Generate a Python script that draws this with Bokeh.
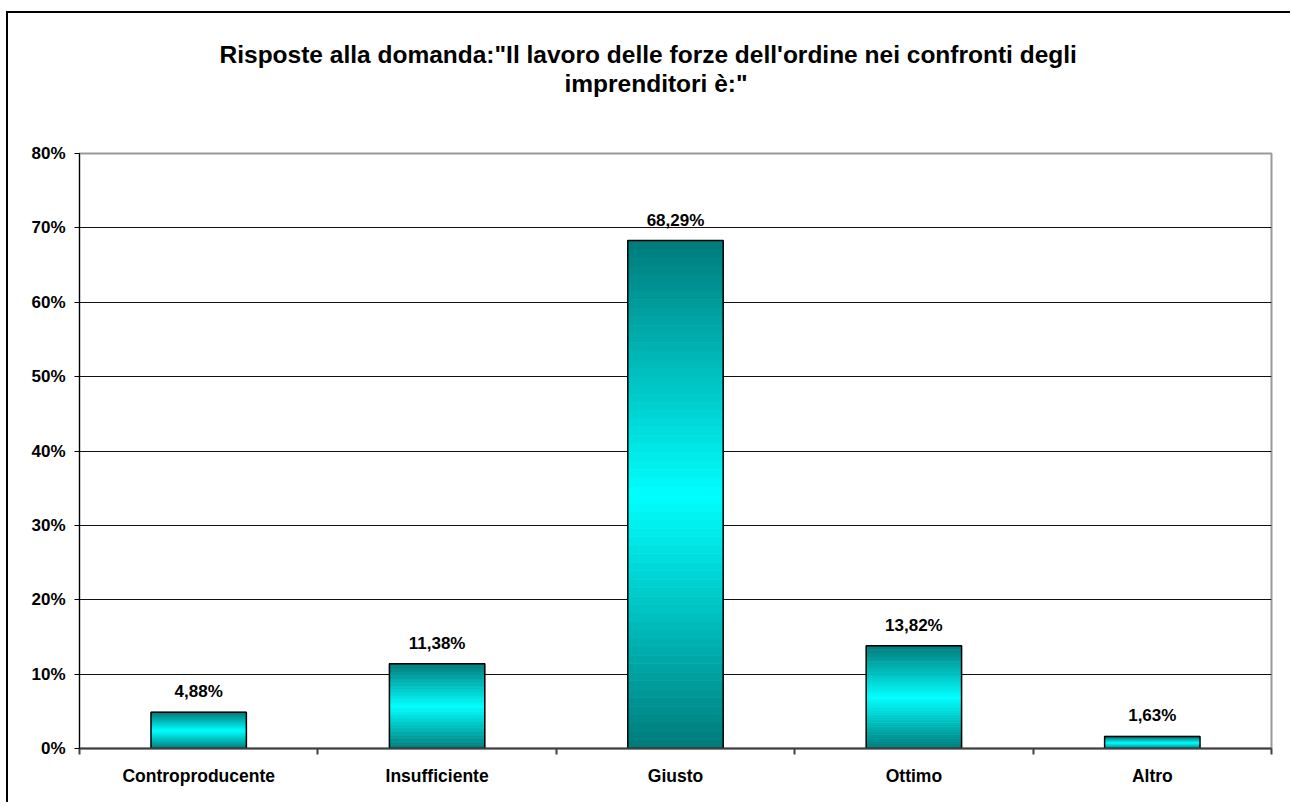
from bokeh.plotting import figure
from bokeh.models import ColumnDataSource, FixedTicker, Title, LabelSet
from bokeh.core.properties import value
from bokeh.embed import file_html
from bokeh.resources import INLINE

# ---- data ----
categories = ["Controproducente", "Insufficiente", "Giusto", "Ottimo", "Altro"]
values = [4.88, 11.38, 68.29, 13.82, 1.63]          # percent
value_labels = ["4,88%", "11,38%", "68,29%", "13,82%", "1,63%"]
y_ticks = [0, 10, 20, 30, 40, 50, 60, 70, 80]
y_tick_labels = ["0%", "10%", "20%", "30%", "40%", "50%", "60%", "70%", "80%"]
title_line1 = "Risposte alla domanda:\"Il lavoro delle forze dell'ordine nei confronti degli"
title_line2 = "imprenditori è:\""

FONT = "Liberation Sans"
W, H = 1284, 791

p = figure(width=W, height=H, output_backend="svg", toolbar_location=None,
           x_range=(0, len(categories)), y_range=(0, 80),
           min_border_left=71, min_border_right=21, min_border_top=140, min_border_bottom=56)
p.title = None
p.styles = {"border-width": "2px 0px 0px 2px", "border-style": "solid", "border-color": "black",
            "margin-left": "6px", "margin-top": "11px"}

# title: spacer panel next to the frame, then the two lines
tstyle = dict(align="left", text_font=FONT, text_font_size="24.5px",
              text_font_style="bold", text_color="black")
p.add_layout(Title(text=" ", standoff=28, **tstyle), "above")
p.add_layout(Title(text=title_line2, offset=485, standoff=0, **tstyle), "above")
p.add_layout(Title(text=title_line1, offset=140, standoff=0, **tstyle), "above")

# gradient bars built from strips
N = 60
dark = (0, 122, 122)
light = (0, 255, 255)
xs, bots, tops, cols = [], [], [], []
for i, v in enumerate(values):
    for k in range(N):
        tt = (k + 0.5) / N
        d = min(1.0, abs(tt - 0.5) * 2)
        c = tuple(int(round(light[j] + (dark[j] - light[j]) * d)) for j in range(3))
        xs.append(i + 0.5)
        bots.append(v * k / N)
        tops.append(v * (k + 1) / N)
        cols.append("#%02x%02x%02x" % c)
p.vbar(x=xs, bottom=bots, top=tops, width=0.4, fill_color=cols, line_color=cols, line_width=0.8)

src = ColumnDataSource(dict(x=[i + 0.5 for i in range(len(categories))], top=values, lab=value_labels))
p.vbar(x="x", top="top", bottom=0, width=0.4, source=src, fill_alpha=0,
       line_color="black", line_width=1.5)
labels = LabelSet(x="x", y="top", text="lab", source=src, text_align="center",
                  text_baseline="bottom", y_offset=11, text_font=value(FONT),
                  text_font_size=value("17px"), text_font_style=value("bold"), text_color="black")
p.add_layout(labels)

# axes
p.xaxis.ticker = FixedTicker(ticks=[i + 0.5 for i in range(len(categories))],
                             minor_ticks=list(range(len(categories) + 1)))
p.xaxis.major_label_overrides = {i + 0.5: c for i, c in enumerate(categories)}
p.xaxis.major_tick_line_color = None
p.xaxis.minor_tick_line_color = "#404040"
p.xaxis.minor_tick_out = 6
p.xaxis.minor_tick_in = 0
p.xaxis.minor_tick_line_width = 2
p.xaxis.axis_line_color = "#404040"
p.xaxis.axis_line_width = 2
p.xaxis.major_label_standoff = 11
p.xaxis.major_label_text_font = FONT
p.xaxis.major_label_text_font_size = "17.5px"
p.xaxis.major_label_text_font_style = "bold"
p.xaxis.major_label_text_color = "black"

p.yaxis.ticker = FixedTicker(ticks=y_ticks, minor_ticks=[])
p.yaxis.major_label_overrides = {v: l for v, l in zip(y_ticks, y_tick_labels)}
p.yaxis.major_tick_out = 5
p.yaxis.major_tick_in = 0
p.yaxis.major_tick_line_color = "black"
p.yaxis.axis_line_color = "black"
p.yaxis.axis_line_width = 1
p.yaxis.major_label_standoff = 9
p.yaxis.major_label_text_font = FONT
p.yaxis.major_label_text_font_size = "17px"
p.yaxis.major_label_text_font_style = "bold"
p.yaxis.major_label_text_color = "black"

p.xgrid.grid_line_color = None
p.ygrid.ticker = FixedTicker(ticks=y_ticks[1:-1])
p.ygrid.grid_line_color = "#111111"
p.ygrid.grid_line_width = 1

p.outline_line_color = "#9a9a9a"
p.outline_line_width = 2
p.background_fill_color = "white"
p.border_fill_color = "white"

open("out.html", "w").write(file_html(p, INLINE))
